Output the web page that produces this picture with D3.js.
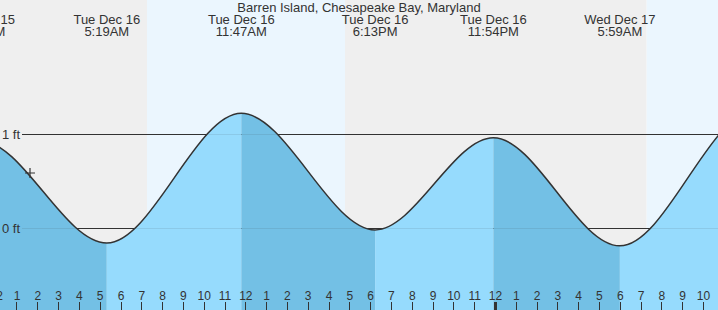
<!DOCTYPE html>
<html><head><meta charset="utf-8">
<script src="https://cdn.jsdelivr.net/npm/d3@7"></script>
<style>html,body{margin:0;padding:0;background:#fff}svg{display:block}text{font-family:"Liberation Sans",Arial,sans-serif;fill:#333}</style>
</head><body>
<svg id="c" width="718" height="310"></svg>
<script>
// hours since midnight Tue Dec 16
const title = "Barren Island, Chesapeake Bay, Maryland";
const extremeHours = [-7.2, -0.783, 5.317, 11.783, 18.217, 23.9, 29.983, 36.5, 42.8];
const extremeFeet  = [-0.08, 0.93, -0.16, 1.22, -0.02, 0.96, -0.19, 1.25, -0.05];
const labelHours = [-0.783, 5.317, 11.783, 18.217, 23.9, 29.983];
const labelDay   = ["Mon Dec 15", "Tue Dec 16", "Tue Dec 16", "Tue Dec 16", "Tue Dec 16", "Wed Dec 17"];
const labelClock = ["11:13PM", "5:19AM", "11:47AM", "6:13PM", "11:54PM", "5:59AM"];
const sunHours = [7.25, 16.77, 31.27];   // sunrise, sunset, sunrise
const levelTicks = [0, 1];
const levelLabels = ["0 ft", "1 ft"];
const nowHour = 1.625, nowFeet = 0.585;
const hourTicks = d3.range(0, 35);

const W = 718, H = 310;
const svg = d3.select("#c");
const x = d3.scaleLinear().domain([0.183, 34.70]).range([0, W]);
const y = d3.scaleLinear().domain([0, 1]).range([228, 134]);

// backgrounds: night / day
const bounds = [x.domain()[0], ...sunHours, x.domain()[1]];
for (let i = 0; i < bounds.length - 1; i++) {
  svg.append("rect").attr("x", x(bounds[i])).attr("y", 0)
    .attr("width", x(bounds[i+1]) - x(bounds[i])).attr("height", H)
    .attr("fill", i % 2 === 0 ? "#efefef" : "#ebf6fe");
}

const pts = extremeHours.map((h, i) => [h, extremeFeet[i]]);

// level lines (under fill)
function levelLines(op) {
  svg.append("g").selectAll("line").data(levelTicks).join("line")
    .attr("x1", 22).attr("x2", W).attr("y1", d => y(d)).attr("y2", d => y(d))
    .attr("stroke", "#333").attr("stroke-width", 1).attr("stroke-opacity", op)
    .attr("shape-rendering", "crispEdges");
}
levelLines(1);

const area = d3.area().x(d => x(d[0])).y0(H).y1(d => y(d[1])).curve(d3.curveMonotoneX);
const line = d3.line().x(d => x(d[0])).y(d => y(d[1])).curve(d3.curveMonotoneX);
const defs = svg.append("defs");
for (let i = 0; i < extremeHours.length - 1; i++) {
  const id = "seg" + i;
  defs.append("clipPath").attr("id", id).append("rect")
    .attr("x", x(extremeHours[i])).attr("y", 0)
    .attr("width", x(extremeHours[i+1]) - x(extremeHours[i])).attr("height", H);
  const falling = extremeFeet[i+1] < extremeFeet[i];
  svg.append("path").datum(pts).attr("d", area).attr("clip-path", `url(#${id})`)
    .attr("fill", falling ? "#73c0e5" : "#96dbfd");
}
levelLines(0.1);

svg.append("path").datum(pts).attr("d", line).attr("fill", "none")
  .attr("stroke", "#333").attr("stroke-width", 1.5);

// level labels
svg.append("g").selectAll("text").data(levelTicks).join("text")
  .attr("x", 20).attr("y", d => y(d) + 4.5).attr("text-anchor", "end")
  .attr("font-size", 13).text((d, i) => levelLabels[i]);

// current-time marker
const cx = x(nowHour), cy = y(nowFeet);
svg.append("path").attr("d", `M${cx-5},${cy}H${cx+5}M${cx},${cy-5}V${cy+5}`)
  .attr("stroke", "#333").attr("stroke-width", 1.2);

// header
svg.append("text").attr("x", W/2).attr("y", 12).attr("text-anchor", "middle")
  .attr("font-size", 13).text(title);
const hdr = svg.append("g").selectAll("g").data(labelHours).join("g")
  .attr("transform", d => `translate(${x(d)},0)`);
hdr.append("text").attr("y", 24).attr("text-anchor", "middle").attr("font-size", 13)
  .text((d, i) => labelDay[i]);
hdr.append("text").attr("y", 36).attr("text-anchor", "middle").attr("font-size", 13)
  .text((d, i) => labelClock[i]);

// hour axis
const ax = svg.append("g");
ax.selectAll("line").data(hourTicks).join("line")
  .attr("x1", d => x(d)).attr("x2", d => x(d)).attr("y1", 302).attr("y2", H)
  .attr("stroke", "#333").attr("stroke-width", d => d % 24 === 0 ? 3 : 1)
  .attr("shape-rendering", "crispEdges");
ax.selectAll("text").data(hourTicks).join("text")
  .attr("x", d => x(d)).attr("y", 300).attr("text-anchor", "middle")
  .attr("font-size", 12).text(d => (d % 12) || 12);
</script>
</body></html>
